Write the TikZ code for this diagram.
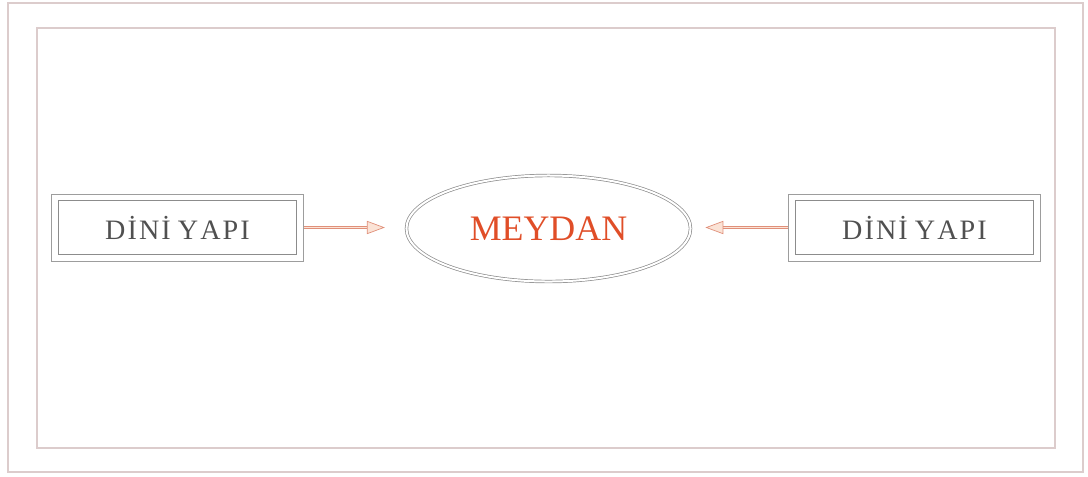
\documentclass[tikz,border=0pt]{standalone}
\usepackage{fontspec}
\setmainfont{Liberation Serif}
\usetikzlibrary{shapes.geometric,arrows.meta}
\definecolor{framec}{HTML}{DCCCCC}
\definecolor{boxc}{HTML}{8C8C8C}
\definecolor{textc}{HTML}{505050}
\definecolor{redc}{HTML}{E04E28}
\definecolor{arrowc}{HTML}{E0907A}
\definecolor{arrowfill}{HTML}{FBE3D6}
\newcommand{\dini}{D\kern1.5ptİ\kern1.5ptN\kern1.5ptİ Y\kern1.5ptA\kern1.5ptP\kern1.5ptI}
\begin{document}
\begin{tikzpicture}[x=0.025cm, y=-0.025cm,
    yapi/.style={draw=boxc!85, line width=0.7pt,
      minimum width=6.275cm, minimum height=1.675cm, inner sep=0pt,
      text=textc, font=\fontsize{20}{20}\selectfont},
    meydan/.style={ellipse, draw=boxc, double, double distance=0.05cm, line width=0.5pt,
      minimum width=7.1cm, minimum height=2.65cm, inner sep=0pt, outer sep=0.04cm,
      text=redc, font=\fontsize{25.5}{25.5}\selectfont},
    okc/.style={draw=arrowc, double=arrowfill, double distance=1.4pt, line width=0.7pt,
      -{Triangle[length=0.45cm, width=0.33cm, fill=arrowfill, line width=0.5pt]}}]
  \useasboundingbox (0,0) rectangle (1088,476);
  % frames
  \draw[framec, line width=0.8pt] (8,3) rectangle (1083,472);
  \draw[framec, line width=0.8pt] (37,28) rectangle (1055,448);
  % nodes
  \node[meydan] (M) at (548.5,228.5) {MEYDAN};
  \node[yapi] (L) at (177.5,227.5) {\dini};
  \node[yapi] (R) at (914.5,227.5) {\dini};
  \foreach \p in {L,R}
    \draw[boxc, line width=0.9pt] ([shift={(7,7)}]\p.north west) rectangle ([shift={(-7,-7)}]\p.south east);
  % arrows
  \draw[okc, shorten >=0.5cm] (L.east) -- (L.east -| M.west);
  \draw[okc, shorten >=0.33cm] (R.west) -- (R.west -| M.east);
\end{tikzpicture}
\end{document}
